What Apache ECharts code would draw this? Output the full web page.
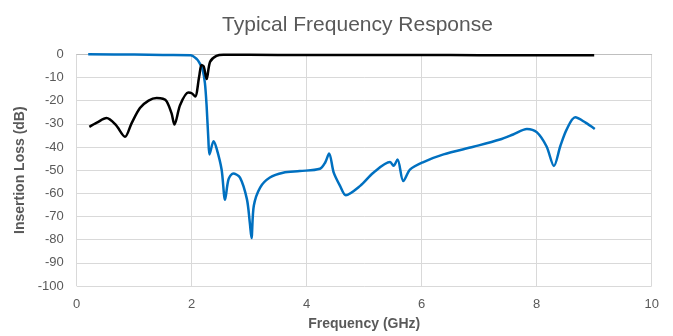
<!DOCTYPE html>
<html><head><meta charset="utf-8">
<script src="https://cdn.jsdelivr.net/npm/echarts@6/dist/echarts.min.js"></script>
<style>html,body{margin:0;padding:0;background:#fff}#c{width:673px;height:336px}</style>
</head><body><div id="c"></div>
<script>
const xTicks = [0, 2, 4, 6, 8, 10];
const yTicks = [0, -10, -20, -30, -40, -50, -60, -70, -80, -90, -100];

const blackFreq = [0.22, 0.35, 0.52, 0.68, 0.84, 0.95, 1.10, 1.25, 1.39, 1.50, 1.565, 1.65, 1.70, 1.80, 1.94, 2.00, 2.06, 2.13, 2.17, 2.21, 2.26, 2.32, 2.43, 2.55, 3.0, 4.0, 5.0, 6.0, 7.0, 8.0, 9.0];
const blackDb   = [-31.3, -29.5, -27.5, -30.5, -35.6, -30.0, -23.2, -20.0, -18.9, -19.2, -20.3, -25.5, -30.3, -21.8, -16.5, -16.8, -18.2, -9.6, -4.6, -5.3, -10.7, -3.2, -0.7, -0.2, -0.2, -0.3, -0.3, -0.3, -0.4, -0.4, -0.4];

const blueFreq = [0.2, 1.0, 1.5, 1.98, 2.09, 2.14, 2.19, 2.23, 2.26, 2.29, 2.31, 2.38, 2.43, 2.52, 2.58, 2.64, 2.72, 2.84, 2.96, 3.01, 3.04, 3.08, 3.19, 3.36, 3.59, 3.88, 4.23, 4.32, 4.39, 4.47, 4.58, 4.68, 4.93, 5.16, 5.45, 5.51, 5.58, 5.68, 5.80, 6.03, 6.38, 6.90, 7.36, 7.59, 7.83, 8.00, 8.17, 8.30, 8.41, 8.52, 8.67, 8.85, 9.01];
const blueDb   = [0, -0.1, -0.3, -0.4, -2.1, -3.9, -6.7, -12.4, -22.5, -36.8, -43.2, -37.5, -40.4, -49.7, -62.8, -54.0, -51.4, -53.2, -62.5, -72.5, -79.3, -65.4, -57.5, -53.2, -51.1, -50.4, -49.4, -46.8, -42.8, -51.1, -56.8, -60.8, -56.8, -51.1, -46.5, -48.1, -45.4, -54.7, -49.7, -46.5, -43.2, -39.9, -36.8, -34.6, -32.2, -33.6, -39.7, -48.2, -39.7, -32.5, -27.2, -29.5, -32.2];

const toPairs = (xs, ys) => xs.map((x, i) => [x, ys[i]]);
const gray = '#595959';
const chart = echarts.init(document.getElementById('c'), null, {renderer: 'canvas'});
chart.setOption({
  animation: false,
  backgroundColor: '#fff',
  title: {
    text: 'Typical Frequency Response',
    left: 352.5, top: 10, textAlign: 'center',
    textStyle: {fontFamily: 'Liberation Sans', fontSize: 21, fontWeight: 'normal', color: gray}
  },
  grid: {left: 76.7, right: 21.3, top: 54.3, bottom: 49},
  xAxis: {
    type: 'value', min: 0, max: 10, interval: 2,
    name: 'Frequency (GHz)', nameLocation: 'middle', nameGap: 31,
    nameTextStyle: {fontFamily: 'Liberation Sans', fontSize: 14, fontWeight: 'bold', color: gray},
    axisLine: {show: true, lineStyle: {color: '#bfbfbf', width: 1}},
    axisTick: {show: false},
    axisLabel: {fontFamily: 'Liberation Sans', fontSize: 13, color: gray, margin: 12,
      formatter: v => xTicks.includes(v) ? String(v) : ''},
    splitLine: {show: true, lineStyle: {color: '#d9d9d9', width: 1}}
  },
  yAxis: {
    type: 'value', min: -100, max: 0, interval: 10,
    name: 'Insertion Loss (dB)', nameLocation: 'middle', nameGap: 43, nameRotate: 90,
    nameTextStyle: {fontFamily: 'Liberation Sans', fontSize: 14, fontWeight: 'bold', color: gray},
    axisLine: {show: false},
    axisTick: {show: false},
    axisLabel: {fontFamily: 'Liberation Sans', fontSize: 13, color: gray, margin: 13,
      formatter: v => yTicks.includes(v) ? String(v) : ''},
    splitLine: {show: true, lineStyle: {color: '#d9d9d9', width: 1}}
  },
  series: [
    {type: 'line', data: toPairs(blueFreq, blueDb), smooth: 0.3, showSymbol: false,
     lineStyle: {color: '#0070C0', width: 2.5}, z: 2},
    {type: 'line', data: toPairs(blackFreq, blackDb), smooth: 0.3, showSymbol: false,
     lineStyle: {color: '#000000', width: 2.5}, z: 3}
  ]
});
</script></body></html>
